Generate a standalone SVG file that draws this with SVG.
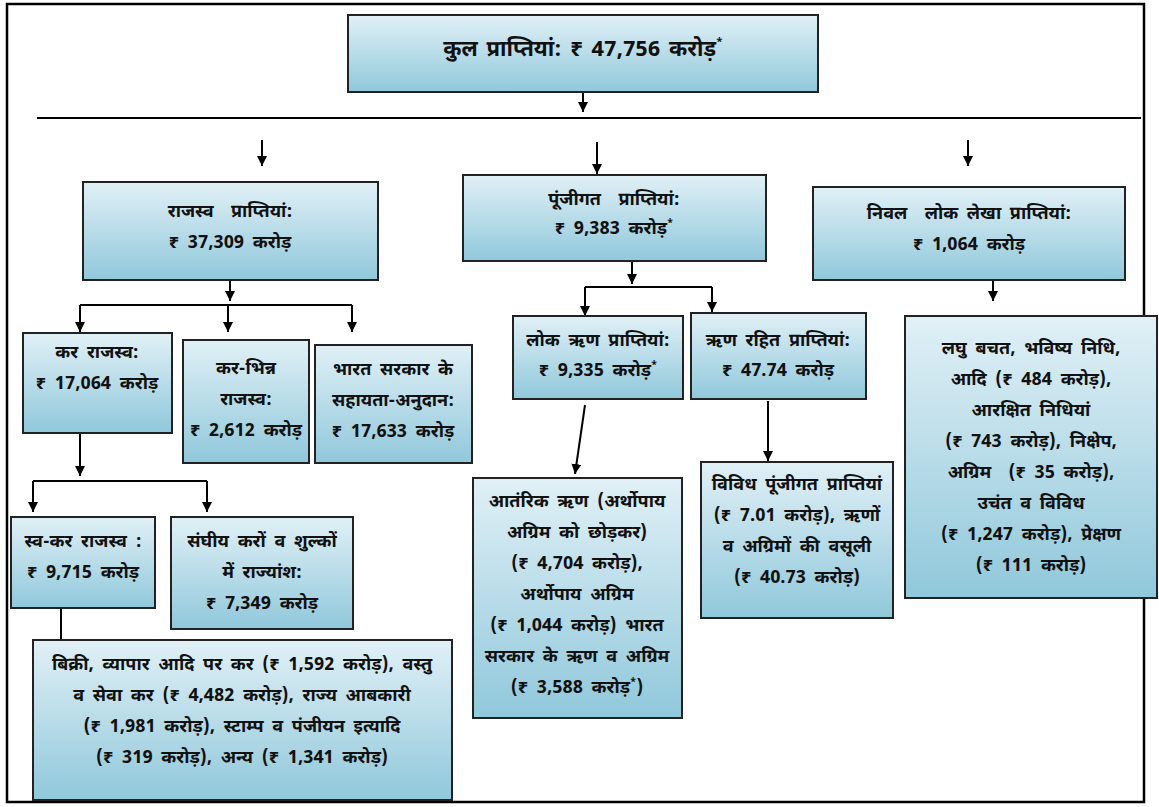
<svg xmlns="http://www.w3.org/2000/svg" width="1159" height="807" viewBox="0 0 1159 807">
<style>
.box{fill:url(#g);stroke:#222;stroke-width:2}
.t{font-family:"Noto Sans Devanagari","Lohit Devanagari","Mangal","Liberation Sans","Noto Sans",sans-serif;font-weight:bold;font-size:18px;word-spacing:4px;fill:#111;text-anchor:middle;dominant-baseline:central}
.big{font-size:22px;word-spacing:3px}
.c{stroke:#000;stroke-width:2;fill:none}
.a{stroke:#000;stroke-width:2;fill:none;marker-end:url(#ah)}
</style>
<defs>
<linearGradient id="g" x1="0" y1="0" x2="0" y2="1">
<stop offset="0" stop-color="#e1f0f6"/>
<stop offset="1" stop-color="#90c8db"/>
</linearGradient>
<marker id="ah" viewBox="0 0 10 10" refX="10" refY="5" markerWidth="5" markerHeight="5" orient="auto" markerUnits="strokeWidth">
<path d="M0,0 L10,5 L0,10 z" fill="#000"/>
</marker>
</defs>
<rect width="1159" height="807" fill="#fff"/>
<rect x="7" y="4" width="1137" height="798" fill="none" stroke="#000" stroke-width="2.5"/>

<g id="connectors">
<line class="a" x1="583" y1="92" x2="583" y2="112"/>
<line class="c" x1="37" y1="118" x2="1141" y2="118"/>
<line class="a" x1="262" y1="140" x2="262" y2="166"/>
<line class="a" x1="597" y1="142" x2="597" y2="174"/>
<line class="a" x1="968" y1="140" x2="968" y2="166"/>
<line class="a" x1="230" y1="280" x2="230" y2="301"/>
<line class="c" x1="80" y1="305" x2="352" y2="305"/>
<line class="a" x1="80" y1="305" x2="80" y2="332"/>
<line class="a" x1="228" y1="305" x2="228" y2="332"/>
<line class="a" x1="352" y1="305" x2="352" y2="332"/>
<line class="a" x1="80" y1="433" x2="80" y2="476"/>
<line class="c" x1="33" y1="481" x2="207" y2="481"/>
<line class="a" x1="33" y1="481" x2="33" y2="512"/>
<line class="a" x1="207" y1="481" x2="207" y2="512"/>
<line class="c" x1="61" y1="608" x2="61" y2="640"/>
<line class="a" x1="632" y1="261" x2="632" y2="284"/>
<line class="c" x1="585" y1="287" x2="712" y2="287"/>
<line class="a" x1="585" y1="287" x2="585" y2="316"/>
<line class="a" x1="712" y1="287" x2="712" y2="312"/>
<line class="a" x1="585" y1="405" x2="575" y2="474"/>
<line class="a" x1="768" y1="401" x2="768" y2="461"/>
<line class="a" x1="993" y1="280" x2="993" y2="301"/>
</g>

<g id="total">
<rect class="box" x="348" y="15" width="470" height="77"/>
<text class="t big" x="583" y="50">कुल प्राप्तियां: ₹ 47,756 करोड़<tspan font-size="11" dy="-8">*</tspan></text>
</g>

<g id="revenue">
<rect class="box" x="83" y="182" width="295" height="98"/>
<text class="t" x="230" y="212" xml:space="preserve">राजस्व  प्राप्तियां:</text>
<text class="t" x="230" y="243">₹ 37,309 करोड़</text>
</g>

<g id="capital">
<rect class="box" x="463" y="175" width="303" height="86"/>
<text class="t" x="614" y="200" xml:space="preserve">पूंजीगत  प्राप्तियां:</text>
<text class="t" x="614" y="229">₹ 9,383 करोड़<tspan font-size="10" dy="-6">*</tspan></text>
</g>

<g id="netpublic">
<rect class="box" x="813" y="187" width="312" height="93"/>
<text class="t" x="969" y="214" xml:space="preserve">निवल  लोक लेखा प्राप्तियां:</text>
<text class="t" x="969" y="245">₹ 1,064 करोड़</text>
</g>

<g id="taxrevenue">
<rect class="box" x="23" y="333" width="149" height="100"/>
<text class="t" x="97" y="353">कर राजस्व:</text>
<text class="t" x="97" y="384">₹ 17,064 करोड़</text>
</g>

<g id="nontax">
<rect class="box" x="183" y="340" width="126" height="123"/>
<text class="t" x="246" y="369">कर-भिन्न</text>
<text class="t" x="246" y="400">राजस्व:</text>
<text class="t" x="246" y="431">₹ 2,612 करोड़</text>
</g>

<g id="grants">
<rect class="box" x="315" y="345" width="157" height="118"/>
<text class="t" x="393" y="370">भारत सरकार के</text>
<text class="t" x="393" y="401">सहायता-अनुदान:</text>
<text class="t" x="393" y="432">₹ 17,633 करोड़</text>
</g>

<g id="owntax">
<rect class="box" x="11" y="517" width="144" height="91"/>
<text class="t" x="83" y="542">स्व-कर राजस्व :</text>
<text class="t" x="83" y="573">₹ 9,715 करोड़</text>
</g>

<g id="centralshare">
<rect class="box" x="171" y="517" width="182" height="112"/>
<text class="t" x="262" y="542">संघीय करों व शुल्कों</text>
<text class="t" x="262" y="573">में राज्यांश:</text>
<text class="t" x="262" y="604">₹ 7,349 करोड़</text>
</g>

<g id="owntaxdetail">
<rect class="box" x="33" y="640" width="419" height="160"/>
<text class="t" x="242" y="665">बिक्री, व्यापार आदि पर कर (₹ 1,592 करोड़), वस्तु</text>
<text class="t" x="242" y="696">व सेवा कर (₹ 4,482 करोड़), राज्य आबकारी</text>
<text class="t" x="242" y="727">(₹ 1,981 करोड़), स्टाम्प व पंजीयन इत्यादि</text>
<text class="t" x="242" y="758">(₹ 319 करोड़), अन्य (₹ 1,341 करोड़)</text>
</g>

<g id="publicdebt">
<rect class="box" x="513" y="316" width="170" height="83"/>
<text class="t" x="598" y="341">लोक ऋण प्राप्तियां:</text>
<text class="t" x="598" y="371">₹ 9,335 करोड़<tspan font-size="10" dy="-6">*</tspan></text>
</g>

<g id="nondebt">
<rect class="box" x="691" y="313" width="175" height="86"/>
<text class="t" x="778" y="341">ऋण रहित प्राप्तियां:</text>
<text class="t" x="778" y="371">₹ 47.74 करोड़</text>
</g>

<g id="debtdetail">
<rect class="box" x="473" y="478" width="209" height="240"/>
<text class="t" x="577" y="502">आतंरिक ऋण (अर्थोपाय</text>
<text class="t" x="577" y="533">अग्रिम को छोड़कर)</text>
<text class="t" x="577" y="564">(₹ 4,704 करोड़),</text>
<text class="t" x="577" y="595">अर्थोपाय अग्रिम</text>
<text class="t" x="577" y="626">(₹ 1,044 करोड़) भारत</text>
<text class="t" x="577" y="657">सरकार के ऋण व अग्रिम</text>
<text class="t" x="577" y="688">(₹ 3,588 करोड़<tspan font-size="10" dy="-6">*</tspan><tspan dy="6">)</tspan></text>
</g>

<g id="nondebtdetail">
<rect class="box" x="701" y="462" width="192" height="156"/>
<text class="t" x="797" y="485">विविध पूंजीगत प्राप्तियां</text>
<text class="t" x="797" y="516">(₹ 7.01 करोड़), ऋणों</text>
<text class="t" x="797" y="547">व अग्रिमों की वसूली</text>
<text class="t" x="797" y="578">(₹ 40.73 करोड़)</text>
</g>

<g id="publicaccountdetail">
<rect class="box" x="905" y="316" width="252" height="282"/>
<text class="t" x="1031" y="349">लघु बचत, भविष्य निधि,</text>
<text class="t" x="1031" y="380">आदि (₹ 484 करोड़),</text>
<text class="t" x="1031" y="411">आरक्षित निधियां</text>
<text class="t" x="1031" y="442">(₹ 743 करोड़), निक्षेप,</text>
<text class="t" x="1031" y="473" xml:space="preserve">अग्रिम  (₹ 35 करोड़),</text>
<text class="t" x="1031" y="504">उचंत व विविध</text>
<text class="t" x="1031" y="535">(₹ 1,247 करोड़), प्रेक्षण</text>
<text class="t" x="1031" y="566">(₹ 111 करोड़)</text>
</g>
</svg>
